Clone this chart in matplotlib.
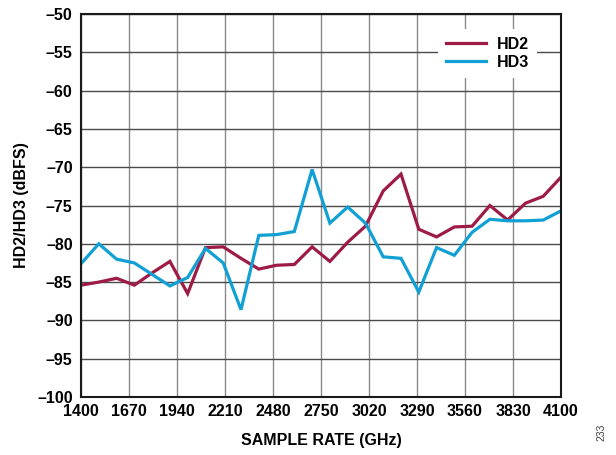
import numpy as np
import matplotlib.pyplot as plt

plt.rcParams['font.family'] = ['Liberation Sans', 'DejaVu Sans']

# sample rate (MHz on the axis, labelled GHz as in the original)
sample_rate = np.arange(1400, 4101, 100)

hd2 = [-85.4, -85.0, -84.5, -85.4, -83.8, -82.3, -86.5, -80.5, -80.4, -81.9,
       -83.3, -82.8, -82.7, -80.4, -82.3, -79.8, -77.7, -73.1, -70.9, -78.1,
       -79.1, -77.8, -77.7, -75.0, -76.9, -74.7, -73.8, -71.3]

hd3 = [-82.6, -80.0, -82.0, -82.5, -84.0, -85.5, -84.4, -80.6, -82.5, -88.6,
       -78.9, -78.8, -78.4, -70.3, -77.3, -75.2, -77.3, -81.7, -81.9, -86.3,
       -80.5, -81.5, -78.5, -76.8, -77.0, -77.0, -76.9, -75.7]

x_ticks = [1400, 1670, 1940, 2210, 2480, 2750, 3020, 3290, 3560, 3830, 4100]
y_ticks = list(range(-100, -49, 5))

fig = plt.figure(figsize=(6.16, 4.55), dpi=100)
ax = fig.add_axes([0.1315, 0.1275, 0.7792, 0.8417])

ax.plot(sample_rate, hd2, color='#9e1b46', lw=2.3, label='HD2', solid_joinstyle='miter')
ax.plot(sample_rate, hd3, color='#11a0d4', lw=2.3, label='HD3', solid_joinstyle='miter')

ax.set_xlim(1400, 4100)
ax.set_ylim(-100, -50)
ax.set_xticks(x_ticks)
ax.set_yticks(y_ticks)
ax.set_yticklabels([str(v).replace('-', '\u2013') for v in y_ticks])

ax.grid(axis='y', color='#4a4a4a', lw=1.0)
ax.grid(axis='x', color='#8a8a8a', lw=1.0)
ax.set_axisbelow(True)
ax.tick_params(length=0, labelsize=11.5)
ax.tick_params(axis='x', pad=5)
ax.tick_params(axis='y', pad=6)
for lbl in ax.get_xticklabels() + ax.get_yticklabels():
    lbl.set_fontweight('bold')
for sp in ax.spines.values():
    sp.set_linewidth(1.5)
    sp.set_color('#1a1a1a')

ax.set_xlabel('SAMPLE RATE (GHz)', fontsize=11.5, fontweight='bold', labelpad=10)
ax.set_ylabel('HD2/HD3 (dBFS)', fontsize=11.5, fontweight='bold', labelpad=6)

leg = ax.legend(loc='upper left', bbox_to_anchor=(0.744, 0.962), frameon=True,
                fancybox=False, edgecolor='white', framealpha=1.0,
                prop={'weight': 'bold', 'size': 11.5}, handlelength=2.5,
                handletextpad=0.7, labelspacing=0.2, borderpad=0.5,
                borderaxespad=0)
leg.get_frame().set_linewidth(0)

fig.text(0.977, 0.03, '233', rotation=90, fontsize=7.5, color='#444444',
         ha='center', va='bottom')

fig.savefig('out.png', dpi=100)
